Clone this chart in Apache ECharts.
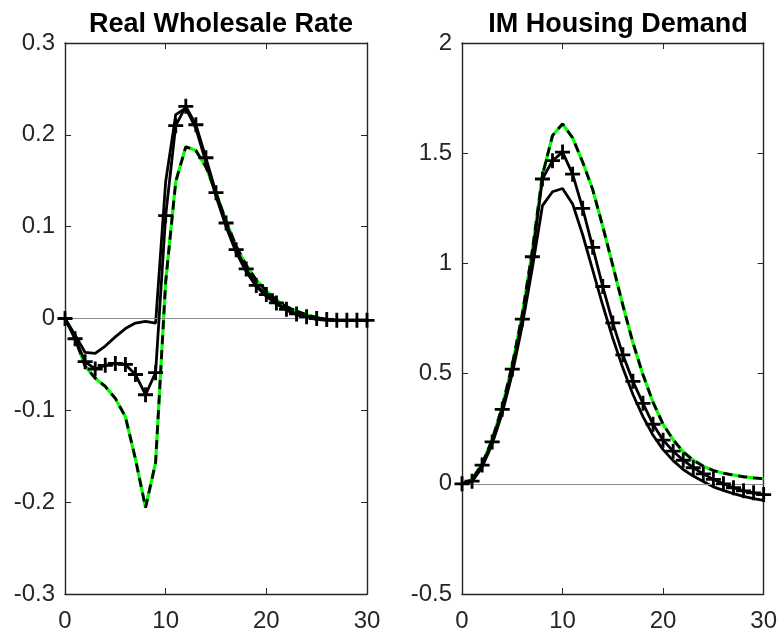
<!DOCTYPE html>
<html>
<head>
<meta charset="utf-8">
<script src="https://cdn.jsdelivr.net/npm/echarts@6/dist/echarts.min.js"></script>
<style>html,body{margin:0;padding:0;background:#fff}#c{width:780px;height:639px}</style>
</head>
<body>
<div id="c"></div>
<script>
const periods = Array.from({length: 31}, (_, i) => i);
const xTicks = [0, 10, 20, 30];
const titles = ['Real Wholesale Rate', 'IM Housing Demand'];

// Left panel: Real Wholesale Rate
const leftSolid = [0, -0.018, -0.037, -0.038, -0.030, -0.020, -0.011, -0.005, -0.003, -0.005,
  0.149, 0.222, 0.229, 0.207, 0.170, 0.133, 0.100, 0.072, 0.051, 0.035,
  0.024, 0.016, 0.009, 0.004, 0.001, -0.001, -0.002, -0.002, -0.002, -0.002, -0.002];
const leftPlus = [0, -0.022, -0.047, -0.055, -0.051, -0.049, -0.050, -0.061, -0.083, -0.059,
  0.112, 0.210, 0.231, 0.211, 0.175, 0.137, 0.104, 0.075, 0.054, 0.036,
  0.026, 0.017, 0.010, 0.005, 0.002, 0.000, -0.001, -0.002, -0.002, -0.002, -0.002];
const leftGreen = [0, -0.022, -0.052, -0.065, -0.074, -0.087, -0.107, -0.153, -0.206, -0.157,
  0.040, 0.149, 0.187, 0.183, 0.165, 0.137, 0.106, 0.079, 0.058, 0.042,
  0.030, 0.020, 0.013, 0.008, 0.004, 0.001, -0.001, -0.002, -0.002, -0.002, -0.002];

// Right panel: IM Housing Demand
const rightSolid = [0, 0.010, 0.075, 0.180, 0.320, 0.500, 0.720, 0.980, 1.262, 1.325,
  1.340, 1.270, 1.130, 0.970, 0.810, 0.660, 0.525, 0.405, 0.305, 0.220,
  0.155, 0.105, 0.065, 0.035, 0.010, -0.014, -0.030, -0.045, -0.057, -0.067, -0.075];
const rightPlus = [0, 0.012, 0.085, 0.190, 0.338, 0.520, 0.747, 1.030, 1.383, 1.466,
  1.505, 1.405, 1.250, 1.073, 0.895, 0.730, 0.585, 0.465, 0.365, 0.270,
  0.198, 0.148, 0.107, 0.073, 0.045, 0.020, 0.000, -0.018, -0.032, -0.041, -0.049];
const rightGreen = [0, 0.020, 0.090, 0.200, 0.350, 0.540, 0.770, 1.060, 1.400, 1.580,
  1.633, 1.570, 1.460, 1.335, 1.168, 0.990, 0.810, 0.640, 0.495, 0.370,
  0.270, 0.200, 0.145, 0.107, 0.080, 0.060, 0.048, 0.040, 0.032, 0.027, 0.023];

const leftY = {min: -0.3, max: 0.3, interval: 0.1};
const rightY = {min: -0.5, max: 2, interval: 0.5};

const pair = arr => periods.map((t, i) => [t, arr[i]]);
const AX = '#262626';
const FONT = 'Liberation Sans';
const plusPath = 'path://M-0.095,-0.5L0.095,-0.5L0.095,-0.095L0.5,-0.095L0.5,0.095L0.095,0.095L0.095,0.5L-0.095,0.5L-0.095,0.095L-0.5,0.095L-0.5,-0.095L-0.095,-0.095Z';

function xAx(gi, pos, labels) {
  return {
    type: 'value', gridIndex: gi, position: pos, min: xTicks[0], max: xTicks[xTicks.length - 1], interval: 10,
    axisLine: {show: true, onZero: false, lineStyle: {color: AX, width: 1.4}},
    axisTick: {show: true, inside: true, length: 6, lineStyle: {color: AX, width: 1}},
    axisLabel: {show: labels, color: AX, fontFamily: FONT, fontSize: 24, margin: 15},
    splitLine: {show: false}
  };
}
function yAx(gi, pos, r, labels) {
  return {
    type: 'value', gridIndex: gi, position: pos, min: r.min, max: r.max, interval: r.interval,
    axisLine: {show: true, onZero: false, lineStyle: {color: AX, width: 1.4}},
    axisTick: {show: true, inside: true, length: 6, lineStyle: {color: AX, width: 1}},
    axisLabel: {show: labels, color: AX, fontFamily: FONT, fontSize: 24, margin: 10,
      formatter: v => String(Math.round(v * 10) / 10)},
    splitLine: {show: false}
  };
}

function panelSeries(xi, yi, solid, plus, green) {
  return [
    {type: 'line', xAxisIndex: xi, yAxisIndex: yi, data: pair(green), showSymbol: false,
      lineStyle: {color: '#00ff00', width: 3.2}, z: 2,
      markLine: {silent: true, symbol: 'none', label: {show: false},
        lineStyle: {color: '#8c8c8c', width: 1, type: 'solid'}, data: [{yAxis: 0}]}},
    {type: 'line', xAxisIndex: xi, yAxisIndex: yi, data: pair(green), showSymbol: false,
      lineStyle: {color: '#000', width: 2.8, type: [9, 6]}, z: 3},
    {type: 'line', xAxisIndex: xi, yAxisIndex: yi, data: pair(solid), showSymbol: false,
      lineStyle: {color: '#000', width: 2.8}, z: 4},
    {type: 'line', xAxisIndex: xi, yAxisIndex: yi, data: pair(plus), symbol: plusPath, symbolSize: 15,
      itemStyle: {color: '#000'}, lineStyle: {color: '#000', width: 2.8}, z: 5}
  ];
}

const chart = echarts.init(document.getElementById('c'), null, {renderer: 'canvas'});
chart.setOption({
  animation: false,
  backgroundColor: '#fff',
  title: [
    {text: titles[0], left: 216, top: 6, textAlign: 'center',
      textStyle: {fontFamily: FONT, fontWeight: 'bold', fontSize: 27, color: '#000'}},
    {text: titles[1], left: 613, top: 6, textAlign: 'center',
      textStyle: {fontFamily: FONT, fontWeight: 'bold', fontSize: 27, color: '#000'}}
  ],
  grid: [
    {left: 65, top: 43, width: 302, height: 551},
    {left: 462, top: 43, width: 302, height: 551}
  ],
  xAxis: [xAx(0, 'bottom', true), xAx(0, 'top', false), xAx(1, 'bottom', true), xAx(1, 'top', false)],
  yAxis: [yAx(0, 'left', leftY, true), yAx(0, 'right', leftY, false),
          yAx(1, 'left', rightY, true), yAx(1, 'right', rightY, false)],
  series: [
    ...panelSeries(0, 0, leftSolid, leftPlus, leftGreen),
    ...panelSeries(2, 2, rightSolid, rightPlus, rightGreen)
  ]
});
</script>
</body>
</html>
